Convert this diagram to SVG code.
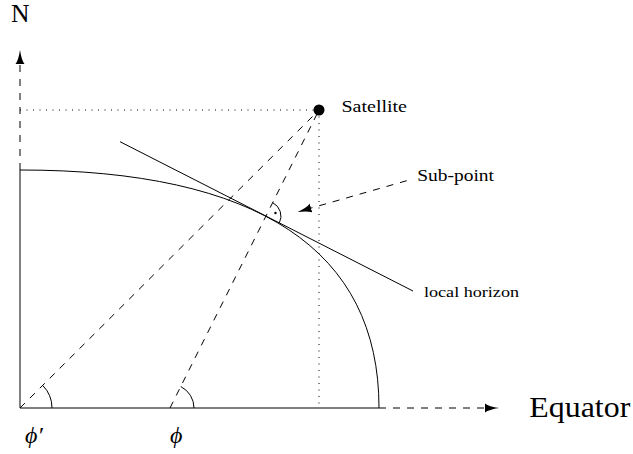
<svg xmlns="http://www.w3.org/2000/svg" width="633" height="454" viewBox="0 0 633 454">
<style>
.ln{fill:none;stroke:#000;stroke-width:1}
.dash{stroke-dasharray:7 7}
.dot{stroke-dasharray:1 5.5}
.t{font-family:'Liberation Serif','DejaVu Serif',serif;fill:#000}
.m{font-family:'Liberation Serif','DejaVu Serif',serif;font-style:italic;fill:#000}
</style>
<defs>
<marker id="ah" markerUnits="userSpaceOnUse" markerWidth="14" markerHeight="10" viewBox="0 -5 14 10" refX="0" refY="0" orient="auto">
<path d="M0,-4.5 Q4,-1.5 14,0 Q4,1.5 0,4.5 z" fill="#000"/>
</marker>
</defs>
<rect width="633" height="454" fill="#fff"/>
<g id="earth">
<path class="ln" d="M20,170 C258,170 379,250 379,408"/>
<path class="ln" d="M20,170 L20,408 L379,408"/>
</g>
<g id="connectors">
<path class="ln dash" d="M20,170 L20,64" marker-end="url(#ah)"/>
<path class="ln dash" d="M379,408 L485,408" marker-end="url(#ah)"/>
<path class="ln dot" d="M20,110 L319,110"/>
<path class="ln dot" d="M319,110 L319,408"/>
<path class="ln dash" d="M20,408 L319,110"/>
<path class="ln dash" d="M170,408 L319,110"/>
<path class="ln" d="M120,141.7 L413,291"/>
<path class="ln dash" d="M406.7,180.7 L311,208.1" marker-end="url(#ah)"/>
<path class="ln" d="M52,408 A32,32 0 0 0 42.67,385.41"/>
<path class="ln" d="M194,408 A24,24 0 0 0 180.73,386.53"/>
<path class="ln" d="M272.67,202.68 A15,15 0 0 1 279.33,222.91"/>
<circle cx="275.46" cy="212.98" r="1.2" fill="#000"/>
</g>
<g id="satellite">
<circle cx="319" cy="110" r="5.5" fill="#000"/>
<text class="t" x="341.5" y="111.7" font-family="Liberation Serif, serif" font-size="16" textLength="65.5" lengthAdjust="spacingAndGlyphs">Satellite</text>
</g>
<g id="subpoint">
<text class="t" x="417.3" y="180.7" font-family="Liberation Serif, serif" font-size="16" textLength="76.7" lengthAdjust="spacingAndGlyphs">Sub-point</text>
</g>
<g id="horizon">
<text class="t" x="424" y="297.3" font-family="Liberation Serif, serif" font-size="14" textLength="95" lengthAdjust="spacingAndGlyphs">local horizon</text>
</g>
<g id="north">
<text class="t" x="11" y="22" font-family="Liberation Serif, serif" font-size="26" textLength="18.5" lengthAdjust="spacingAndGlyphs">N</text>
</g>
<g id="equator">
<text class="t" x="529.3" y="416.7" font-family="Liberation Serif, serif" font-size="29" textLength="101" lengthAdjust="spacingAndGlyphs">Equator</text>
</g>
<g id="phiprime">
<text class="m" x="25" y="443" font-family="Liberation Serif, serif" font-size="24">ϕ′</text>
</g>
<g id="phi">
<text class="m" x="170" y="443" font-family="Liberation Serif, serif" font-size="24">ϕ</text>
</g>
</svg>
